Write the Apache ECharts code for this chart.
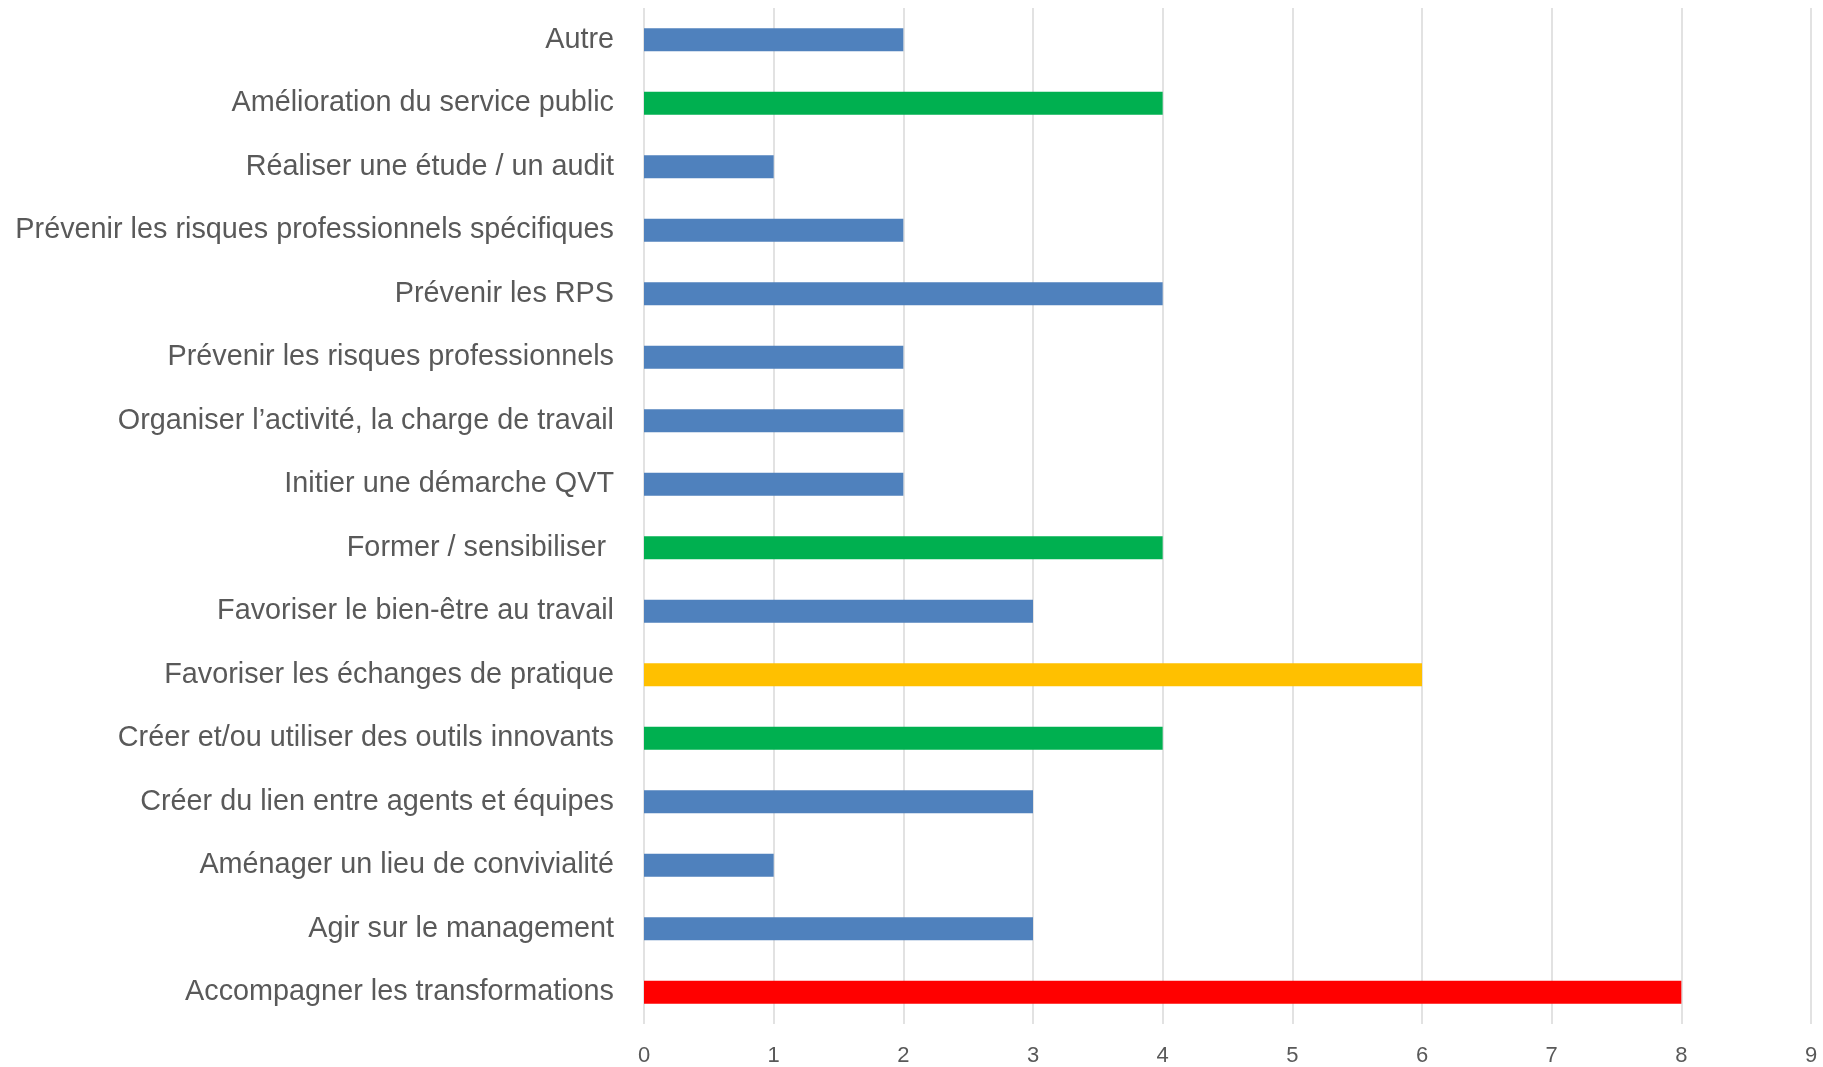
<!DOCTYPE html>
<html>
<head>
<meta charset="utf-8">
<script src="https://cdn.jsdelivr.net/npm/echarts@6/dist/echarts.min.js"></script>
<style>
  html, body { margin: 0; padding: 0; background: #fff; }
  #chart { width: 1823px; height: 1067px; }
</style>
</head>
<body>
<div id="chart"></div>
<script>
// categories top to bottom
const categories = [
  'Autre',
  'Amélioration du service public',
  'Réaliser une étude / un audit',
  'Prévenir les risques professionnels spécifiques',
  'Prévenir les RPS',
  'Prévenir les risques professionnels',
  'Organiser l’activité, la charge de travail',
  'Initier une démarche QVT',
  'Former / sensibiliser ',
  'Favoriser le bien-être au travail',
  'Favoriser les échanges de pratique',
  'Créer et/ou utiliser des outils innovants',
  'Créer du lien entre agents et équipes',
  'Aménager un lieu de convivialité',
  'Agir sur le management',
  'Accompagner les transformations'
]
const values = [2, 4, 1, 2, 4, 2, 2, 2, 4, 3, 6, 4, 3, 1, 3, 8]
const xTicks = [0, 1, 2, 3, 4, 5, 6, 7, 8, 9]

// couleurs des barres (même ordre que categories)
const BLUE = '#4F81BD', GREEN = '#00B050', YELLOW = '#FFC000', RED = '#FF0000'
const barColors = [BLUE, GREEN, BLUE, BLUE, BLUE, BLUE, BLUE, BLUE, GREEN, BLUE, YELLOW, GREEN, BLUE, BLUE, BLUE, RED]

const font = '"Liberation Sans", sans-serif'

let myChart = echarts.init(document.getElementById('chart'), null, { renderer: 'canvas' })
let option = {
  animation: false,
  grid: {
    left: 644,
    right: 12,
    top: 8,
    bottom: 42
  },
  xAxis: {
    type: 'value',
    min: xTicks[0],
    max: xTicks[xTicks.length - 1],
    interval: 1,
    axisLine: { show: false },
    axisTick: { show: false },
    splitLine: {
      show: true,
      lineStyle: { color: '#D9D9D9', width: 1.5 }
    },
    axisLabel: {
      color: '#595959',
      fontSize: 22,
      fontFamily: font,
      margin: 21
    }
  },
  yAxis: {
    type: 'category',
    data: categories,
    inverse: true,
    axisLine: { show: false },
    axisTick: { show: false },
    axisLabel: {
      color: '#595959',
      fontSize: 28.8,
      fontFamily: font,
      margin: 30
    }
  },
  series: [
    {
      type: 'bar',
      barWidth: 23,
      data: values.map((v, i) => ({
        value: v,
        itemStyle: { color: barColors[i] }
      }))
    }
  ]
}
myChart.setOption(option)
</script>
</body>
</html>
